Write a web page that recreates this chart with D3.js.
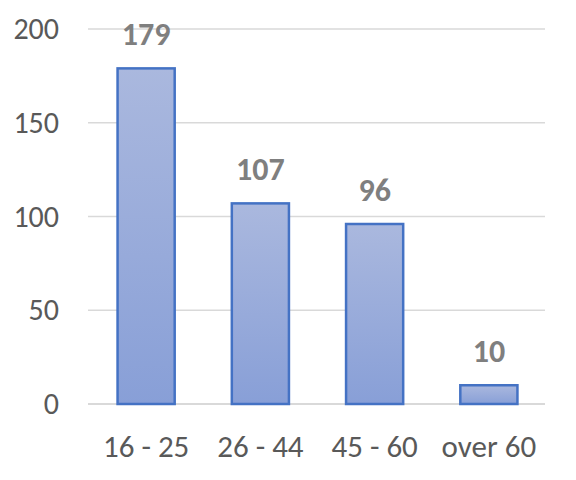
<!DOCTYPE html>
<html><head><meta charset="utf-8">
<script src="https://cdn.jsdelivr.net/npm/d3@7"></script>
<style>body{margin:0;background:#fff}svg{display:block}text{font-family:Carlito,Calibri,"Noto Sans",sans-serif}</style>
</head><body><svg id="c" width="576" height="480"></svg>
<script>
const categories = ["16 - 25", "26 - 44", "45 - 60", "over 60"];
const values = [179, 107, 96, 10];
const yTicks = [0, 50, 100, 150, 200];

const svg = d3.select("#c");
const x = d3.scaleBand().domain(categories).range([89, 546]).paddingInner(0.5).paddingOuter(0.25);
const y = d3.scaleLinear().domain([0, 200]).range([404, 29]);

const defs = svg.append("defs");
const g = defs.append("linearGradient").attr("id","gr").attr("x1",0).attr("y1",0).attr("x2",0).attr("y2",1);
g.append("stop").attr("offset","0%").attr("stop-color","#aab8de");
g.append("stop").attr("offset","100%").attr("stop-color","#889fd7");

// gridlines
svg.append("g").selectAll("line").data(yTicks).join("line")
  .attr("x1",88).attr("x2",545).attr("y1",d=>y(d)).attr("y2",d=>y(d))
  .attr("stroke","#d9d9d9").attr("stroke-width",d=>d===0?2:1.3);

// y labels
const yAxis = d3.axisLeft(y).tickValues(yTicks).tickSize(0).tickPadding(0);
const ya = svg.append("g").attr("transform","translate(59,0)").call(yAxis);
ya.attr("font-size",null).attr("font-family",null);
ya.select(".domain").remove();
ya.selectAll("text").style("font-size","30px").attr("fill","#595959");

// x labels
const xAxis = d3.axisBottom(x).tickSize(0).tickPadding(0);
const xa = svg.append("g").attr("transform","translate(0,435)").call(xAxis);
xa.attr("font-size",null).attr("font-family",null);
xa.select(".domain").remove();
xa.selectAll("text").style("font-size","31px").attr("fill","#595959");

// bars
svg.append("g").selectAll("rect").data(values).join("rect")
  .attr("x",(d,i)=>x(categories[i])).attr("width",x.bandwidth())
  .attr("y",d=>y(d)).attr("height",d=>y(0)-y(d))
  .attr("fill","url(#gr)").attr("stroke","#4472c4").attr("stroke-width",2.5);

// value labels
svg.append("g").selectAll("text").data(values).join("text")
  .attr("x",(d,i)=>x(categories[i])+x.bandwidth()/2).attr("y",d=>y(d)-23)
  .attr("text-anchor","middle").style("font-size","32px").attr("font-weight","bold").attr("fill","#7f7f7f")
  .text(d=>d);
</script></body></html>
